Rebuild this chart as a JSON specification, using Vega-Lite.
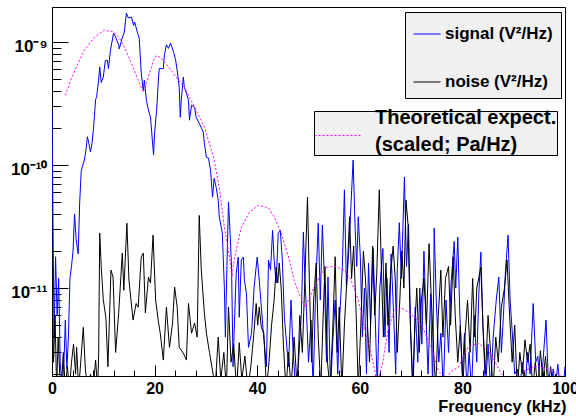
{
"$schema": "https://vega.github.io/schema/vega-lite/v6.json",
"width": 513, "height": 369,
"autosize": {"type": "none"},
"padding": {"left": 52, "top": 7, "right": 11, "bottom": 41},
"background": "white",
"config": {"view": {"stroke": "#000", "strokeWidth": 1}, "font": "Liberation Sans", "axis": {"labelOverlap": false}},
"datasets": {
"spec": [
{"f":0.0,"v":2.8e-10,"s":"signal"},{"f":0.4,"v":4e-12,"s":"signal"},{"f":0.7,"v":1.8e-11,"s":"signal"},{"f":1.0,"v":6e-12,"s":"signal"},{"f":1.3,"v":1.2e-11,"s":"signal"},{"f":1.6,"v":2.5e-12,"s":"signal"},{"f":2.0,"v":1.5e-12,"s":"signal"},{"f":2.4,"v":3e-12,"s":"signal"},{"f":2.6,"v":5.5e-12,"s":"signal"},{"f":2.9,"v":2.2e-12,"s":"signal"},{"f":3.2,"v":4e-12,"s":"signal"},{"f":3.5,"v":1.2e-11,"s":"signal"},{"f":3.8,"v":1.5e-11,"s":"signal"},{"f":4.1,"v":2.0e-11,"s":"signal"},{"f":4.4,"v":4.0e-11,"s":"signal"},{"f":4.7,"v":2.5e-11,"s":"signal"},{"f":5.1,"v":1.9e-11,"s":"signal"},{"f":5.4,"v":5e-11,"s":"signal"},{"f":5.7,"v":9e-11,"s":"signal"},{"f":6.0,"v":1.0e-10,"s":"signal"},{"f":6.3,"v":1.1e-10,"s":"signal"},{"f":6.6,"v":1.3e-10,"s":"signal"},{"f":6.9,"v":1.7e-10,"s":"signal"},{"f":7.2,"v":1.5e-10,"s":"signal"},{"f":7.5,"v":1.28e-10,"s":"signal"},{"f":7.8,"v":1.5e-10,"s":"signal"},{"f":8.1,"v":2.0e-10,"s":"signal"},{"f":8.5,"v":3.4e-10,"s":"signal"},{"f":8.7,"v":3.6e-10,"s":"signal"},{"f":9.1,"v":4.9e-10,"s":"signal"},{"f":9.3,"v":6.3e-10,"s":"signal"},{"f":9.6,"v":4.7e-10,"s":"signal"},{"f":10.0,"v":5.2e-10,"s":"signal"},{"f":10.4,"v":7.1e-10,"s":"signal"},{"f":10.8,"v":7.1e-10,"s":"signal"},{"f":11.0,"v":6.1e-10,"s":"signal"},{"f":11.4,"v":8.6e-10,"s":"signal"},{"f":12.0,"v":1.18e-9,"s":"signal"},{"f":12.4,"v":1.10e-9,"s":"signal"},{"f":13.0,"v":9.5e-10,"s":"signal"},{"f":13.1,"v":8.8e-10,"s":"signal"},{"f":13.7,"v":1.08e-9,"s":"signal"},{"f":14.1,"v":1.21e-9,"s":"signal"},{"f":14.5,"v":1.72e-9,"s":"signal"},{"f":14.9,"v":1.57e-9,"s":"signal"},{"f":15.5,"v":1.60e-9,"s":"signal"},{"f":15.9,"v":1.37e-9,"s":"signal"},{"f":16.1,"v":1.46e-9,"s":"signal"},{"f":16.7,"v":1.18e-9,"s":"signal"},{"f":17.0,"v":1.08e-9,"s":"signal"},{"f":17.4,"v":5.6e-10,"s":"signal"},{"f":17.8,"v":4.07e-10,"s":"signal"},{"f":18.0,"v":4.9e-10,"s":"signal"},{"f":18.4,"v":3.37e-10,"s":"signal"},{"f":18.8,"v":2.8e-10,"s":"signal"},{"f":19.2,"v":2.45e-10,"s":"signal"},{"f":19.4,"v":1.93e-10,"s":"signal"},{"f":19.8,"v":1.21e-10,"s":"signal"},{"f":20.0,"v":1.82e-10,"s":"signal"},{"f":20.4,"v":2.8e-10,"s":"signal"},{"f":20.7,"v":4.6e-10,"s":"signal"},{"f":20.9,"v":6.1e-10,"s":"signal"},{"f":21.7,"v":6.1e-10,"s":"signal"},{"f":21.9,"v":7.8e-10,"s":"signal"},{"f":22.3,"v":9.5e-10,"s":"signal"},{"f":22.7,"v":8.9e-10,"s":"signal"},{"f":23.1,"v":9.8e-10,"s":"signal"},{"f":23.7,"v":8.3e-10,"s":"signal"},{"f":24.1,"v":7.1e-10,"s":"signal"},{"f":24.4,"v":5.9e-10,"s":"signal"},{"f":24.8,"v":4.3e-10,"s":"signal"},{"f":25.0,"v":2.45e-10,"s":"signal"},{"f":25.2,"v":3.37e-10,"s":"signal"},{"f":25.6,"v":5.2e-10,"s":"signal"},{"f":25.8,"v":4.3e-10,"s":"signal"},{"f":26.2,"v":3.85e-10,"s":"signal"},{"f":26.6,"v":3.37e-10,"s":"signal"},{"f":26.8,"v":2.32e-10,"s":"signal"},{"f":27.2,"v":3.07e-10,"s":"signal"},{"f":27.8,"v":2.96e-10,"s":"signal"},{"f":28.1,"v":2.45e-10,"s":"signal"},{"f":28.7,"v":2.19e-10,"s":"signal"},{"f":29.5,"v":1.85e-10,"s":"signal"},{"f":29.7,"v":1.51e-10,"s":"signal"},{"f":30.1,"v":1.16e-10,"s":"signal"},{"f":30.5,"v":1.14e-10,"s":"signal"},{"f":30.9,"v":9.1e-11,"s":"signal"},{"f":31.3,"v":5.5e-11,"s":"signal"},{"f":31.6,"v":7.8e-11,"s":"signal"},{"f":32.0,"v":6.6e-11,"s":"signal"},{"f":32.4,"v":5.2e-11,"s":"signal"},{"f":32.6,"v":3.8e-11,"s":"signal"},{"f":33.2,"v":2.8e-11,"s":"signal"},{"f":33.6,"v":1.0e-11,"s":"signal"},{"f":33.8,"v":4e-12,"s":"signal"},{"f":34.1,"v":1.5e-11,"s":"signal"},{"f":34.4,"v":5e-11,"s":"signal"},{"f":34.6,"v":3.57e-11,"s":"signal"},{"f":35.0,"v":1.48e-11,"s":"signal"},{"f":35.3,"v":2.3e-12,"s":"signal"},{"f":35.5,"v":4.3e-12,"s":"signal"},{"f":35.9,"v":1.3e-11,"s":"signal"},{"f":36.3,"v":1.79e-11,"s":"signal"},{"f":36.5,"v":5.8e-12,"s":"signal"},{"f":36.9,"v":1.69e-11,"s":"signal"},{"f":37.3,"v":1.79e-11,"s":"signal"},{"f":37.5,"v":1.16e-11,"s":"signal"},{"f":37.9,"v":9.1e-12,"s":"signal"},{"f":38.3,"v":3.3e-12,"s":"signal"},{"f":38.9,"v":4.3e-12,"s":"signal"},{"f":39.4,"v":1.02e-11,"s":"signal"},{"f":40.0,"v":1.79e-11,"s":"signal"},{"f":40.4,"v":1.16e-11,"s":"signal"},{"f":41.2,"v":4.3e-12,"s":"signal"},{"f":41.8,"v":2.3e-12,"s":"signal"},{"f":42.2,"v":1.69e-11,"s":"signal"},{"f":42.6,"v":1.40e-11,"s":"signal"},{"f":43.0,"v":2.96e-11,"s":"signal"},{"f":43.3,"v":1.69e-11,"s":"signal"},{"f":43.7,"v":1.1e-11,"s":"signal"},{"f":44.1,"v":2.8e-11,"s":"signal"},{"f":44.5,"v":2.96e-11,"s":"signal"},{"f":44.9,"v":1.69e-11,"s":"signal"},{"f":45.3,"v":5.8e-12,"s":"signal"},{"f":46.1,"v":2.3e-12,"s":"signal"},{"f":46.3,"v":3.8e-12,"s":"signal"},{"f":46.6,"v":8e-12,"s":"signal"},{"f":47.0,"v":3e-12,"s":"signal"},{"f":47.5,"v":1.5e-12,"s":"signal"},{"f":48.0,"v":2.3e-12,"s":"signal"},{"f":48.6,"v":6e-12,"s":"signal"},{"f":49.0,"v":2.85e-11,"s":"signal"},{"f":49.3,"v":1.2e-11,"s":"signal"},{"f":49.6,"v":6.5e-12,"s":"signal"},{"f":50.0,"v":2.5e-12,"s":"signal"},{"f":50.5,"v":5.5e-12,"s":"signal"},{"f":50.9,"v":1.5e-12,"s":"signal"},{"f":51.4,"v":1.0e-11,"s":"signal"},{"f":51.9,"v":3.37e-11,"s":"signal"},{"f":52.3,"v":8e-12,"s":"signal"},{"f":52.7,"v":3.25e-11,"s":"signal"},{"f":53.1,"v":1.2e-11,"s":"signal"},{"f":53.5,"v":2.5e-12,"s":"signal"},{"f":53.8,"v":1.23e-11,"s":"signal"},{"f":54.3,"v":1.5e-12,"s":"signal"},{"f":54.7,"v":3.5e-12,"s":"signal"},{"f":55.2,"v":8e-12,"s":"signal"},{"f":55.7,"v":2e-12,"s":"signal"},{"f":56.1,"v":6e-12,"s":"signal"},{"f":56.6,"v":1.5e-11,"s":"signal"},{"f":57.0,"v":6.3e-11,"s":"signal"},{"f":57.4,"v":1.0e-11,"s":"signal"},{"f":57.9,"v":2.2e-11,"s":"signal"},{"f":58.3,"v":5e-11,"s":"signal"},{"f":58.7,"v":1.1e-10,"s":"signal"},{"f":59.1,"v":3e-11,"s":"signal"},{"f":59.4,"v":1.5e-11,"s":"signal"},{"f":59.7,"v":3.8e-11,"s":"signal"},{"f":60.1,"v":1.8e-11,"s":"signal"},{"f":60.5,"v":4e-12,"s":"signal"},{"f":60.9,"v":1.0e-11,"s":"signal"},{"f":61.3,"v":2e-12,"s":"signal"},{"f":61.7,"v":1.6e-11,"s":"signal"},{"f":62.1,"v":5e-12,"s":"signal"},{"f":62.6,"v":2.1e-11,"s":"signal"},{"f":63.0,"v":6e-12,"s":"signal"},{"f":63.4,"v":1.5e-12,"s":"signal"},{"f":63.9,"v":1.0e-11,"s":"signal"},{"f":64.5,"v":2.1e-11,"s":"signal"},{"f":64.9,"v":4e-12,"s":"signal"},{"f":65.3,"v":1.2e-11,"s":"signal"},{"f":65.7,"v":3e-12,"s":"signal"},{"f":66.1,"v":1.9e-11,"s":"signal"},{"f":66.6,"v":6e-12,"s":"signal"},{"f":67.0,"v":2e-12,"s":"signal"},{"f":67.3,"v":1.4e-11,"s":"signal"},{"f":67.7,"v":3.4e-11,"s":"signal"},{"f":68.1,"v":1.2e-11,"s":"signal"},{"f":68.7,"v":8.0e-11,"s":"signal"},{"f":69.1,"v":1.5e-11,"s":"signal"},{"f":69.5,"v":3.3e-11,"s":"signal"},{"f":69.9,"v":4.5e-12,"s":"signal"},{"f":70.4,"v":1.5e-12,"s":"signal"},{"f":70.8,"v":7e-12,"s":"signal"},{"f":71.3,"v":2.5e-12,"s":"signal"},{"f":71.7,"v":1.0e-11,"s":"signal"},{"f":72.1,"v":3.5e-12,"s":"signal"},{"f":72.5,"v":2.0e-11,"s":"signal"},{"f":72.9,"v":6e-12,"s":"signal"},{"f":73.3,"v":2e-12,"s":"signal"},{"f":73.8,"v":9e-12,"s":"signal"},{"f":74.2,"v":1.5e-12,"s":"signal"},{"f":74.5,"v":3.07e-11,"s":"signal"},{"f":74.9,"v":8e-12,"s":"signal"},{"f":75.4,"v":2.5e-12,"s":"signal"},{"f":75.8,"v":4.3e-12,"s":"signal"},{"f":76.3,"v":1.5e-12,"s":"signal"},{"f":76.8,"v":8e-12,"s":"signal"},{"f":77.3,"v":3e-12,"s":"signal"},{"f":77.8,"v":1.1e-11,"s":"signal"},{"f":78.4,"v":2.4e-11,"s":"signal"},{"f":78.7,"v":1.0e-11,"s":"signal"},{"f":79.1,"v":2.6e-11,"s":"signal"},{"f":79.5,"v":6e-12,"s":"signal"},{"f":80.0,"v":2e-12,"s":"signal"},{"f":80.4,"v":4.3e-12,"s":"signal"},{"f":80.9,"v":1.5e-12,"s":"signal"},{"f":81.3,"v":3e-12,"s":"signal"},{"f":81.8,"v":1.5e-12,"s":"signal"},{"f":82.3,"v":6e-12,"s":"signal"},{"f":82.8,"v":2.5e-12,"s":"signal"},{"f":83.2,"v":9e-12,"s":"signal"},{"f":83.6,"v":1.96e-11,"s":"signal"},{"f":84.0,"v":5e-12,"s":"signal"},{"f":84.5,"v":1.5e-12,"s":"signal"},{"f":85.0,"v":3.5e-12,"s":"signal"},{"f":85.5,"v":1.5e-12,"s":"signal"},{"f":86.0,"v":4e-12,"s":"signal"},{"f":86.6,"v":8e-12,"s":"signal"},{"f":87.1,"v":1.23e-11,"s":"signal"},{"f":87.6,"v":3e-12,"s":"signal"},{"f":88.0,"v":6e-12,"s":"signal"},{"f":88.4,"v":1.4e-11,"s":"signal"},{"f":88.9,"v":2.7e-11,"s":"signal"},{"f":89.3,"v":8e-12,"s":"signal"},{"f":89.7,"v":4.5e-12,"s":"signal"},{"f":90.2,"v":2e-12,"s":"signal"},{"f":90.7,"v":2.2e-12,"s":"signal"},{"f":91.2,"v":1.5e-12,"s":"signal"},{"f":91.7,"v":2.5e-12,"s":"signal"},{"f":92.2,"v":1.5e-12,"s":"signal"},{"f":92.7,"v":3e-12,"s":"signal"},{"f":93.2,"v":2e-12,"s":"signal"},{"f":93.8,"v":7.5e-12,"s":"signal"},{"f":94.3,"v":2.5e-12,"s":"signal"},{"f":94.7,"v":2.8e-12,"s":"signal"},{"f":95.2,"v":1.5e-12,"s":"signal"},{"f":95.7,"v":2.5e-12,"s":"signal"},{"f":96.3,"v":5.5e-12,"s":"signal"},{"f":96.7,"v":2e-12,"s":"signal"},{"f":97.2,"v":1.5e-12,"s":"signal"},{"f":97.7,"v":2.2e-12,"s":"signal"},{"f":98.1,"v":1.5e-12,"s":"signal"},{"f":98.6,"v":2.4e-12,"s":"signal"},{"f":99.1,"v":1.5e-12,"s":"signal"},{"f":99.6,"v":1.5e-12,"s":"signal"},{"f":100.0,"v":2.3e-12,"s":"signal"},
{"f":0.0,"v":1.0e-11,"s":"noise"},{"f":0.3,"v":2.5e-12,"s":"noise"},{"f":0.6,"v":6e-12,"s":"noise"},{"f":0.9,"v":1.5e-12,"s":"noise"},{"f":1.2,"v":4e-12,"s":"noise"},{"f":1.5,"v":2e-12,"s":"noise"},{"f":1.8,"v":1.5e-12,"s":"noise"},{"f":2.2,"v":3e-12,"s":"noise"},{"f":2.6,"v":1.5e-12,"s":"noise"},{"f":3.0,"v":2.3e-12,"s":"noise"},{"f":3.4,"v":1.5e-12,"s":"noise"},{"f":3.8,"v":2.5e-12,"s":"noise"},{"f":4.2,"v":3.5e-12,"s":"noise"},{"f":4.6,"v":2e-12,"s":"noise"},{"f":4.8,"v":3.3e-12,"s":"noise"},{"f":5.2,"v":1.5e-12,"s":"noise"},{"f":5.6,"v":2.5e-12,"s":"noise"},{"f":6.1,"v":4.8e-12,"s":"noise"},{"f":6.5,"v":2.2e-12,"s":"noise"},{"f":7.0,"v":1.5e-12,"s":"noise"},{"f":7.5,"v":2.0e-12,"s":"noise"},{"f":8.0,"v":1.5e-12,"s":"noise"},{"f":8.5,"v":2.6e-12,"s":"noise"},{"f":8.9,"v":1.5e-12,"s":"noise"},{"f":9.1,"v":3e-12,"s":"noise"},{"f":9.3,"v":2.8e-11,"s":"noise"},{"f":9.6,"v":1.48e-11,"s":"noise"},{"f":10.0,"v":8e-12,"s":"noise"},{"f":10.5,"v":5.8e-12,"s":"noise"},{"f":10.9,"v":2.3e-12,"s":"noise"},{"f":11.5,"v":1.40e-11,"s":"noise"},{"f":11.9,"v":1.23e-11,"s":"noise"},{"f":12.4,"v":3e-12,"s":"noise"},{"f":13.0,"v":6.3e-12,"s":"noise"},{"f":13.7,"v":1.93e-11,"s":"noise"},{"f":14.0,"v":9.6e-12,"s":"noise"},{"f":14.6,"v":3.37e-11,"s":"noise"},{"f":15.0,"v":1.16e-11,"s":"noise"},{"f":15.8,"v":5.5e-12,"s":"noise"},{"f":16.4,"v":7.5e-12,"s":"noise"},{"f":16.8,"v":7e-12,"s":"noise"},{"f":17.4,"v":1.79e-11,"s":"noise"},{"f":17.8,"v":1.93e-11,"s":"noise"},{"f":18.2,"v":6.3e-12,"s":"noise"},{"f":18.8,"v":1.23e-11,"s":"noise"},{"f":19.2,"v":1.1e-11,"s":"noise"},{"f":19.7,"v":2.7e-11,"s":"noise"},{"f":20.2,"v":8e-12,"s":"noise"},{"f":20.7,"v":5.5e-12,"s":"noise"},{"f":21.1,"v":4.3e-12,"s":"noise"},{"f":21.7,"v":2.6e-12,"s":"noise"},{"f":22.3,"v":7e-12,"s":"noise"},{"f":22.9,"v":3.3e-12,"s":"noise"},{"f":23.5,"v":5.2e-12,"s":"noise"},{"f":23.9,"v":1.02e-11,"s":"noise"},{"f":24.4,"v":7e-12,"s":"noise"},{"f":24.8,"v":3.3e-12,"s":"noise"},{"f":25.6,"v":2.96e-12,"s":"noise"},{"f":26.2,"v":2.6e-12,"s":"noise"},{"f":26.6,"v":7.5e-12,"s":"noise"},{"f":27.2,"v":4.3e-12,"s":"noise"},{"f":27.8,"v":5.2e-12,"s":"noise"},{"f":28.3,"v":4e-12,"s":"noise"},{"f":28.7,"v":3.9e-11,"s":"noise"},{"f":29.1,"v":1.40e-11,"s":"noise"},{"f":29.7,"v":6.3e-12,"s":"noise"},{"f":30.1,"v":4.3e-12,"s":"noise"},{"f":30.7,"v":3e-12,"s":"noise"},{"f":31.4,"v":2e-12,"s":"noise"},{"f":31.8,"v":1.5e-12,"s":"noise"},{"f":32.4,"v":4e-12,"s":"noise"},{"f":32.9,"v":1.8e-12,"s":"noise"},{"f":33.5,"v":3e-12,"s":"noise"},{"f":34.0,"v":1.5e-12,"s":"noise"},{"f":34.4,"v":7e-12,"s":"noise"},{"f":34.9,"v":2.5e-12,"s":"noise"},{"f":35.4,"v":3.5e-12,"s":"noise"},{"f":36.0,"v":1.5e-12,"s":"noise"},{"f":36.5,"v":3.6e-12,"s":"noise"},{"f":37.0,"v":1.8e-12,"s":"noise"},{"f":37.6,"v":2.8e-12,"s":"noise"},{"f":38.2,"v":1.5e-12,"s":"noise"},{"f":38.8,"v":2.4e-12,"s":"noise"},{"f":39.4,"v":4.5e-12,"s":"noise"},{"f":39.8,"v":7.5e-12,"s":"noise"},{"f":40.1,"v":5e-12,"s":"noise"},{"f":40.4,"v":7e-12,"s":"noise"},{"f":40.8,"v":4.8e-12,"s":"noise"},{"f":41.3,"v":4.3e-12,"s":"noise"},{"f":41.8,"v":1.5e-12,"s":"noise"},{"f":42.3,"v":2.5e-12,"s":"noise"},{"f":42.8,"v":5e-12,"s":"noise"},{"f":43.3,"v":8e-12,"s":"noise"},{"f":43.7,"v":1.48e-11,"s":"noise"},{"f":44.0,"v":1.1e-11,"s":"noise"},{"f":44.3,"v":1.6e-11,"s":"noise"},{"f":44.7,"v":9.6e-12,"s":"noise"},{"f":45.1,"v":3.5e-12,"s":"noise"},{"f":45.6,"v":1.5e-12,"s":"noise"},{"f":46.1,"v":3e-12,"s":"noise"},{"f":46.6,"v":1.5e-12,"s":"noise"},{"f":47.2,"v":4e-12,"s":"noise"},{"f":47.8,"v":1.5e-12,"s":"noise"},{"f":48.3,"v":6e-12,"s":"noise"},{"f":48.8,"v":3e-12,"s":"noise"},{"f":49.3,"v":1.2e-11,"s":"noise"},{"f":49.8,"v":5.5e-11,"s":"noise"},{"f":50.2,"v":1.0e-11,"s":"noise"},{"f":50.6,"v":2.5e-12,"s":"noise"},{"f":51.0,"v":8e-12,"s":"noise"},{"f":51.5,"v":1.6e-11,"s":"noise"},{"f":51.9,"v":4e-12,"s":"noise"},{"f":52.4,"v":1.5e-12,"s":"noise"},{"f":52.8,"v":5e-12,"s":"noise"},{"f":53.2,"v":1.5e-11,"s":"noise"},{"f":53.7,"v":2.5e-12,"s":"noise"},{"f":54.2,"v":1.5e-12,"s":"noise"},{"f":54.7,"v":4.3e-12,"s":"noise"},{"f":55.2,"v":1.8e-11,"s":"noise"},{"f":55.6,"v":3e-12,"s":"noise"},{"f":56.0,"v":7e-12,"s":"noise"},{"f":56.5,"v":1.5e-12,"s":"noise"},{"f":57.0,"v":5e-12,"s":"noise"},{"f":57.5,"v":1.2e-11,"s":"noise"},{"f":58.0,"v":3.8e-11,"s":"noise"},{"f":58.4,"v":1.2e-11,"s":"noise"},{"f":58.8,"v":2.2e-11,"s":"noise"},{"f":59.3,"v":6e-12,"s":"noise"},{"f":59.7,"v":1.5e-12,"s":"noise"},{"f":60.2,"v":5e-12,"s":"noise"},{"f":60.7,"v":2.0e-11,"s":"noise"},{"f":61.1,"v":1.2e-11,"s":"noise"},{"f":61.5,"v":5e-12,"s":"noise"},{"f":61.9,"v":2.5e-12,"s":"noise"},{"f":62.5,"v":2.2e-11,"s":"noise"},{"f":62.9,"v":6e-12,"s":"noise"},{"f":63.3,"v":1.3e-11,"s":"noise"},{"f":63.8,"v":6.3e-11,"s":"noise"},{"f":64.2,"v":1.5e-11,"s":"noise"},{"f":64.6,"v":4e-12,"s":"noise"},{"f":65.1,"v":1.6e-11,"s":"noise"},{"f":65.5,"v":5e-12,"s":"noise"},{"f":66.0,"v":1.3e-11,"s":"noise"},{"f":66.5,"v":2.2e-11,"s":"noise"},{"f":66.9,"v":1.2e-11,"s":"noise"},{"f":67.3,"v":3e-12,"s":"noise"},{"f":67.8,"v":8e-12,"s":"noise"},{"f":68.2,"v":2.0e-11,"s":"noise"},{"f":68.6,"v":1.0e-11,"s":"noise"},{"f":69.0,"v":5.2e-11,"s":"noise"},{"f":69.4,"v":3.3e-11,"s":"noise"},{"f":69.8,"v":6e-12,"s":"noise"},{"f":70.3,"v":1.5e-12,"s":"noise"},{"f":70.7,"v":4.5e-12,"s":"noise"},{"f":71.1,"v":1.0e-11,"s":"noise"},{"f":71.6,"v":3e-12,"s":"noise"},{"f":72.0,"v":8e-12,"s":"noise"},{"f":72.5,"v":1.2e-11,"s":"noise"},{"f":73.0,"v":5e-12,"s":"noise"},{"f":73.5,"v":2.3e-11,"s":"noise"},{"f":73.9,"v":9e-12,"s":"noise"},{"f":74.4,"v":3e-12,"s":"noise"},{"f":74.8,"v":1.5e-12,"s":"noise"},{"f":75.3,"v":6e-12,"s":"noise"},{"f":75.8,"v":1.4e-11,"s":"noise"},{"f":76.2,"v":4e-12,"s":"noise"},{"f":76.7,"v":1.2e-11,"s":"noise"},{"f":77.3,"v":1.5e-11,"s":"noise"},{"f":77.7,"v":5e-12,"s":"noise"},{"f":78.2,"v":1.8e-11,"s":"noise"},{"f":78.6,"v":6e-12,"s":"noise"},{"f":79.1,"v":2.5e-12,"s":"noise"},{"f":79.6,"v":5e-12,"s":"noise"},{"f":80.1,"v":1.5e-12,"s":"noise"},{"f":80.5,"v":4e-12,"s":"noise"},{"f":81.0,"v":8e-12,"s":"noise"},{"f":81.5,"v":3e-12,"s":"noise"},{"f":82.0,"v":1.2e-11,"s":"noise"},{"f":82.4,"v":4e-12,"s":"noise"},{"f":82.8,"v":1.0e-11,"s":"noise"},{"f":83.6,"v":1.48e-11,"s":"noise"},{"f":84.0,"v":5e-12,"s":"noise"},{"f":84.5,"v":2e-12,"s":"noise"},{"f":85.0,"v":6e-12,"s":"noise"},{"f":85.5,"v":3e-12,"s":"noise"},{"f":86.0,"v":1.5e-12,"s":"noise"},{"f":86.5,"v":4e-12,"s":"noise"},{"f":87.0,"v":2.5e-12,"s":"noise"},{"f":87.6,"v":7e-12,"s":"noise"},{"f":88.2,"v":1.0e-11,"s":"noise"},{"f":88.7,"v":1.7e-11,"s":"noise"},{"f":89.2,"v":6e-12,"s":"noise"},{"f":89.7,"v":2.5e-12,"s":"noise"},{"f":90.2,"v":5e-12,"s":"noise"},{"f":90.7,"v":1.5e-12,"s":"noise"},{"f":91.2,"v":3e-12,"s":"noise"},{"f":91.7,"v":2e-12,"s":"noise"},{"f":92.2,"v":3.8e-12,"s":"noise"},{"f":92.7,"v":2.5e-12,"s":"noise"},{"f":93.2,"v":3.5e-12,"s":"noise"},{"f":93.7,"v":1.5e-12,"s":"noise"},{"f":94.2,"v":2.5e-12,"s":"noise"},{"f":94.7,"v":1.5e-12,"s":"noise"},{"f":95.2,"v":3.1e-12,"s":"noise"},{"f":95.7,"v":1.8e-12,"s":"noise"},{"f":96.2,"v":2.8e-12,"s":"noise"},{"f":96.7,"v":1.5e-12,"s":"noise"},{"f":97.2,"v":2.3e-12,"s":"noise"},{"f":97.7,"v":1.5e-12,"s":"noise"},{"f":98.2,"v":2.0e-12,"s":"noise"},{"f":98.8,"v":1.5e-12,"s":"noise"},{"f":99.4,"v":1.8e-12,"s":"noise"},{"f":100.0,"v":1.5e-12,"s":"noise"}
],
"theory": [
{"f":2.6,"v":3.7e-10},{"f":3.8,"v":5.1e-10},{"f":5.2,"v":6.9e-10},{"f":6.3,"v":8.6e-10},{"f":8.3,"v":1.10e-9},{"f":10.2,"v":1.25e-9},{"f":12.0,"v":1.21e-9},{"f":13.0,"v":1.10e-9},{"f":13.9,"v":9.5e-10},{"f":15.5,"v":6.7e-10},{"f":16.8,"v":4.9e-10},{"f":17.8,"v":3.9e-10},{"f":18.8,"v":5.2e-10},{"f":19.8,"v":7.1e-10},{"f":20.4,"v":7.8e-10},{"f":21.3,"v":7.4e-10},{"f":22.7,"v":6.3e-10},{"f":24.2,"v":5.2e-10},{"f":25.8,"v":4.3e-10},{"f":27.8,"v":2.96e-10},{"f":29.7,"v":2.04e-10},{"f":31.5,"v":1.16e-10},{"f":32.6,"v":6.6e-11},{"f":33.6,"v":3.13e-11},{"f":34.6,"v":1.79e-11},{"f":35.1,"v":1.23e-11},{"f":35.5,"v":1.69e-11},{"f":36.9,"v":3.13e-11},{"f":38.5,"v":4.15e-11},{"f":40.2,"v":4.7e-11},{"f":42.2,"v":4.5e-11},{"f":43.3,"v":3.8e-11},{"f":44.7,"v":2.8e-11},{"f":46.1,"v":1.79e-11},{"f":47.2,"v":1.16e-11},{"f":48.2,"v":8.9e-12},{"f":49.4,"v":7e-12},{"f":51.1,"v":1.02e-11},{"f":53.1,"v":1.46e-11},{"f":55.0,"v":1.51e-11},{"f":57.0,"v":1.40e-11},{"f":58.3,"v":1.16e-11},{"f":59.7,"v":8.0e-12},{"f":60.9,"v":4.8e-12},{"f":62.2,"v":2.96e-12},{"f":63.4,"v":1.7e-12},{"f":64.4,"v":2.4e-12},{"f":65.5,"v":4.56e-12},{"f":66.7,"v":6.6e-12},{"f":68.1,"v":6.9e-12},{"f":69.4,"v":6.4e-12},{"f":71.4,"v":5.5e-12},{"f":72.5,"v":4.56e-12},{"f":73.9,"v":3.3e-12},{"f":75.3,"v":2.16e-12},{"f":76.6,"v":1.8e-12},{"f":77.8,"v":2.1e-12},{"f":79.2,"v":2.28e-12},{"f":81.1,"v":3.3e-12},{"f":83.0,"v":3.57e-12},{"f":85.0,"v":3.13e-12},{"f":86.2,"v":2.6e-12},{"f":87.5,"v":2.04e-12},{"f":88.7,"v":1.8e-12},{"f":90.5,"v":1.85e-12},{"f":92.4,"v":2.16e-12},{"f":94.7,"v":2.33e-12},{"f":97.3,"v":2.16e-12},{"f":99.2,"v":1.93e-12},{"f":100,"v":1.8e-12}
]
},
"layer": [
{
"data": {"name": "spec"},
"mark": {"type": "line", "strokeWidth": 1, "clip": true},
"encoding": {
"x": {"field": "f", "type": "quantitative",
 "scale": {"domain": [0, 100], "nice": false, "zero": false},
 "axis": {"values": [0,4,8,12,16,20,24,28,32,36,40,44,48,52,56,60,64,68,72,76,80,84,88,92,96,100],
  "labelExpr": "datum.value % 20 == 0 ? datum.label : ''",
  "tickSize": {"condition": {"test": "datum.value % 20 == 0", "value": -11}, "value": -6},
  "tickColor": "#000", "domainColor": "#000", "grid": false,
  "labelFont": "Liberation Sans", "labelFontWeight": "bold", "labelFontSize": 16, "labelColor": "#000",
  "labelPadding": 15, "labelFlush": false, "labelOverlap": false, "labelBound": false,
  "title": "Frequency (kHz)", "titleFont": "Liberation Sans", "titleFontWeight": "bold", "titleFontSize": 16.5, "titleColor": "#000",
  "titleAnchor": "end", "titleAlign": "right", "titleX": 514, "titleY": 35, "titleBaseline": "alphabetic"}},
"y": {"field": "v", "type": "quantitative",
 "scale": {"type": "log", "domain": [1.93e-12, 1.93e-9], "nice": false},
 "axis": {"values": [2e-12,3e-12,4e-12,5e-12,6e-12,7e-12,8e-12,9e-12,1e-11,2e-11,3e-11,4e-11,5e-11,6e-11,7e-11,8e-11,9e-11,1e-10,2e-10,3e-10,4e-10,5e-10,6e-10,7e-10,8e-10,9e-10,1e-9],
  "labelExpr": "abs(datum.value-1e-9)<1e-13 ? '10⁻⁹' : abs(datum.value-1e-10)<1e-14 ? '10⁻¹⁰' : abs(datum.value-1e-11)<1e-15 ? '10⁻¹¹' : ''",
  "tickSize": {"condition": {"test": "abs(log(datum.value)/LN10-round(log(datum.value)/LN10))<0.01", "value": -16}, "value": -9},
  "tickColor": "#000", "domainColor": "#000", "grid": false,
  "labelFont": "Liberation Sans", "labelFontWeight": "bold", "labelFontSize": 17, "labelColor": "#000",
  "labelPadding": 21, "labelOffset": 4, "labelOverlap": false, "labelFlush": false,
  "title": null}},
"color": {"field": "s", "type": "nominal",
 "scale": {"domain": ["signal", "noise"], "range": ["#0000ff", "#000000"]},
 "legend": {"title": null, "orient": "none", "legendX": 353, "legendY": 5,
  "fillColor": "#f0f0f0", "strokeColor": "#000", "padding": 8,
  "symbolType": "stroke", "symbolSize": 729, "symbolStrokeWidth": 1,
  "labelFont": "Liberation Sans", "labelFontWeight": "bold", "labelFontSize": 17, "labelColor": "#000",
  "labelOffset": 4, "rowPadding": 26, "labelLimit": 0,
  "labelExpr": "datum.label == 'signal' ? 'signal (V²/Hz)' : 'noise (V²/Hz)'"}}
}
},
{
"data": {"name": "theory"},
"mark": {"type": "line", "strokeWidth": 1, "strokeDash": [2, 2], "clip": true},
"encoding": {
"x": {"field": "f", "type": "quantitative",
 "axis": {"values": [0,4,8,12,16,20,24,28,32,36,40,44,48,52,56,60,64,68,72,76,80,84,88,92,96,100],
  "labelExpr": "datum.value % 20 == 0 ? datum.label : ''",
  "tickSize": {"condition": {"test": "datum.value % 20 == 0", "value": -11}, "value": -6},
  "tickColor": "#000", "domainColor": "#000", "grid": false,
  "labelFont": "Liberation Sans", "labelFontWeight": "bold", "labelFontSize": 16, "labelColor": "#000",
  "labelPadding": 15, "labelFlush": false, "labelOverlap": false, "labelBound": false,
  "title": "Frequency (kHz)", "titleFont": "Liberation Sans", "titleFontWeight": "bold", "titleFontSize": 16.5, "titleColor": "#000",
  "titleAnchor": "end", "titleAlign": "right", "titleX": 514, "titleY": 35, "titleBaseline": "alphabetic"}},
"y": {"field": "v", "type": "quantitative"},
"color": {"datum": "theory",
 "scale": {"domain": ["theory"], "range": ["#ff00ff"]},
 "legend": {"title": null, "orient": "none", "legendX": 262, "legendY": 104,
  "fillColor": "#f0f0f0", "strokeColor": "#000", "padding": 0,
  "symbolType": "stroke", "symbolSize": 2304, "symbolStrokeWidth": 1, "symbolDash": [2, 2],
  "labelFont": "Liberation Sans", "labelFontWeight": "bold", "labelFontSize": 20, "labelColor": "#000",
  "labelOffset": 12, "labelLimit": 0,
  "labelExpr": "['Theoretical expect.', '(scaled; Pa/Hz)']",
  "encode": {"labels": {"update": {"lineHeight": {"value": 27}, "dy": {"value": -17.5}}}}}}
}
}
],
"resolve": {"scale": {"color": "independent"}, "legend": {"color": "independent"}}
}
